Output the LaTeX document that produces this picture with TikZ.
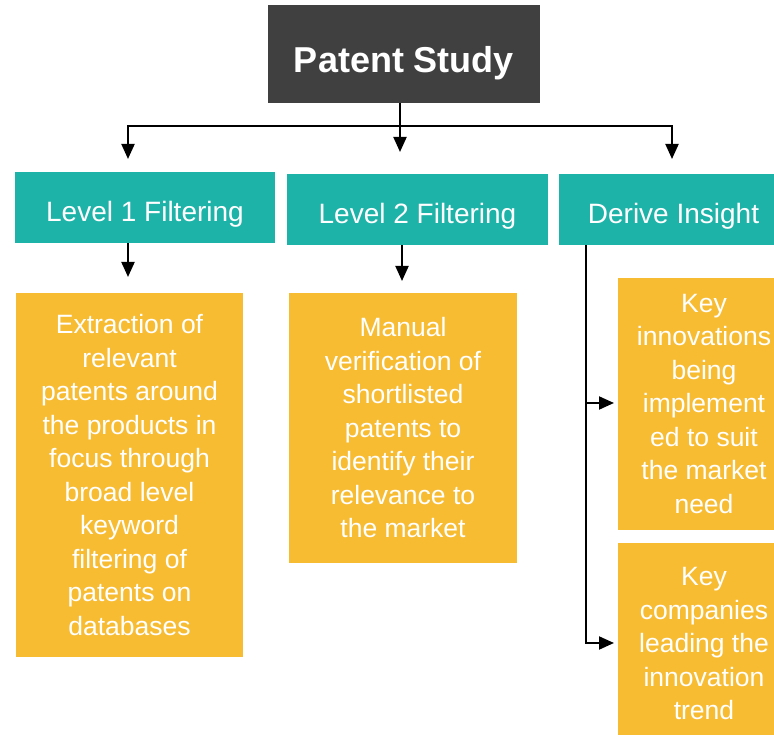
\documentclass[tikz,border=0pt]{standalone}
\usepackage{fontspec}
\setmainfont{Liberation Sans}
\usepackage{xcolor}
\usetikzlibrary{positioning, arrows.meta}

\definecolor{darkbox}{HTML}{404040}
\definecolor{tealbox}{HTML}{1DB3A8}
\definecolor{ambox}{HTML}{F8BC33}

\begin{document}
\begin{tikzpicture}[
      x=1pt, y=1pt,
      top/.style={fill=darkbox, text=white, inner sep=0pt, align=center,
        text height=46pt, text depth=8pt,
        font=\fontsize{36}{40}\selectfont\bfseries},
      lvl/.style={fill=tealbox, text=white, inner sep=0pt, align=center,
        text height=34pt, text depth=6pt,
        minimum height=71pt, font=\fontsize{28}{32}\selectfont},
      txt/.style={fill=ambox, text=white, inner sep=0pt, align=center,
        font=\fontsize{26.5}{33.5}\selectfont},
      ln/.style={line width=2pt},
      arr/.style={line width=2pt, -{Triangle[length=15pt, width=13pt]}}
    ]
    \useasboundingbox (0,0) rectangle (774,735);
    \node[top, minimum width=272pt, minimum height=98pt] (ps) at (404,681) {Patent Study};
    \node[lvl, minimum width=260pt] (l1) at (145,527.5) {Level 1 Filtering};
    \node[lvl, minimum width=261pt] (l2) at (417.5,525.5) {Level 2 Filtering};
    \node[lvl, minimum width=229pt] (di) at (673.5,525.5) {Derive Insight};
    \node[txt, minimum width=227pt, minimum height=364pt] (o1) at (129.5,260)
      {Extraction of\\relevant\\patents around\\the products in\\focus through\\broad level\\keyword\\filtering of\\patents on\\databases};
    \node[txt, minimum width=228pt, minimum height=270pt] (o2) at (403,307)
      {Manual\\verification of\\shortlisted\\patents to\\identify their\\relevance to\\the market};
    \node[txt, minimum width=172pt, minimum height=252pt] (o3) at (704,331)
      {Key\\innovations\\being\\implement\\ed to suit\\the market\\need};
    \node[txt, minimum width=172pt, minimum height=202pt] (o4) at (704,91)
      {Key\\companies\\leading the\\innovation\\trend};
    % arrow ends
    \coordinate (bus) at (400,609);
    \coordinate (t1) at (128,576);
    \coordinate (t2) at (400,583);
    \coordinate (t3) at (672,576);
    \coordinate (a1) at (128,458);
    \coordinate (a2) at (402,454);
    \coordinate (dv) at (586,92);
    \coordinate (d1) at (614,332);
    \coordinate (d2) at (614,92);
    \draw[ln] (ps.south -| bus) -- (bus);
    \draw[arr] (bus) -| (t1);
    \draw[arr] (bus) -| (t3);
    \draw[arr] (bus) -- (t2);
    \draw[arr] (l1.south -| a1) -- (a1);
    \draw[arr] (l2.south -| a2) -- (a2);
    \draw[arr] (di.south -| dv) |- (d2);
    \draw[arr] (dv |- d1) -- (d1);
\end{tikzpicture}
\end{document}
